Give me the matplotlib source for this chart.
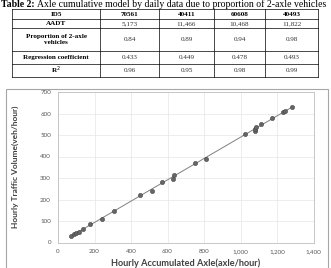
import numpy as np
import matplotlib.pyplot as plt
from matplotlib.patches import Rectangle
from matplotlib.ticker import FuncFormatter

# table data
title_bold = 'Table 2:'
title_rest = 'Axle cumulative model by daily data due to proportion of 2-axle vehicles'
col_heads = ['ID5', '70561', '40411', '60608', '40493']
row_names = ['AADT', 'Proportion of 2-axle\nvehicles', 'Regression coefficient', 'R$^2$']
cells = [['5,173', '11,466', '10,468', '11,822'],
         ['0.84', '0.89', '0.94', '0.98'],
         ['0.433', '0.449', '0.478', '0.493'],
         ['0.96', '0.95', '0.98', '0.99']]

# scatter data (axle/hour vs veh/hour)
axle = [69, 89, 100, 116, 138, 178, 242, 305, 447, 513, 569, 629, 636, 751, 809,
        1023, 1078, 1080, 1083, 1115, 1174, 1232, 1242, 1281]
veh = [31, 40, 45, 49, 62, 88, 107, 147, 220, 239, 282, 296, 313, 369, 389,
       504, 519, 530, 536, 549, 578, 606, 611, 628]

W, H = 331, 268
fig = plt.figure(figsize=(W / 100, H / 100), dpi=100)

def fx(px):
    return px / W

def fy(py):
    return 1 - py / H

# ---- table ----
t1 = fig.text(fx(1), fy(4.5), title_bold, fontsize=7, fontweight='bold',
              family='Liberation Serif', va='center', ha='left')
r = fig.canvas.get_renderer()
bb = t1.get_window_extent(renderer=r)
fig.text(bb.x1 / W + fx(2), fy(4.5), title_rest, fontsize=7,
         family='Liberation Serif', va='center', ha='left')

xcols = [12, 100, 159, 214, 265, 318]
yrows = [9, 19, 28, 51, 64, 77]
for x in xcols:
    fig.add_artist(plt.Line2D([fx(x), fx(x)], [fy(yrows[0]), fy(yrows[-1])],
                              color='black', lw=0.5))
for y in yrows:
    fig.add_artist(plt.Line2D([fx(xcols[0]), fx(xcols[-1])], [fy(y), fy(y)],
                              color='black', lw=0.5))

rows = [col_heads] + [[name] + vals for name, vals in zip(row_names, cells)]
for i, row in enumerate(rows):
    yc = (yrows[i] + yrows[i + 1]) / 2
    for c, txt in enumerate(row):
        xc = (xcols[c] + xcols[c + 1]) / 2
        bold = (i == 0) or (c == 0)
        fig.text(fx(xc), fy(yc), txt, fontsize=5.1, family='Liberation Serif',
                 fontweight='bold' if bold else 'normal', ha='center', va='center',
                 linespacing=1.4, color='black' if bold else '#333333')

# ---- chart frame ----
fig.add_artist(Rectangle((fx(5.5), fy(275)), fx(322), (275 - 89) / H,
                         fill=False, edgecolor='#a6a6a6', lw=0.8))

ax = fig.add_axes([fx(58), fy(242.5), fx(313.5 - 58), (242.5 - 92) / H])
ax.set_xlim(0, 1400)
ax.set_ylim(0, 700)
ax.set_xticks(np.arange(0, 1401, 200))
ax.set_yticks(np.arange(0, 701, 100))
ax.xaxis.set_major_formatter(FuncFormatter(lambda v, p: f'{int(v):,}'))
ax.grid(True, color='#e6e6e6', lw=0.5)
ax.set_axisbelow(True)
for s in ax.spines.values():
    s.set_color('#bfbfbf')
    s.set_linewidth(0.6)
ax.tick_params(length=0, labelsize=4.5, labelcolor='#595959', pad=5)
for lab in ax.get_xticklabels() + ax.get_yticklabels():
    lab.set_family('Lato')

a = np.polyfit(axle, veh, 1)
xl = np.array([min(axle), max(axle)])
ax.plot(xl, np.polyval(a, xl), color='#808080', lw=0.7, zorder=2)
ax.scatter(axle, veh, s=9, color='#666666', edgecolors='#444444', linewidths=0.4, zorder=3)

ax.set_xlabel('Hourly Accumulated Axle(axle/hour)', fontsize=6.6, fontweight='bold',
              family='Lato', color='#404040', labelpad=3)
ax.set_ylabel('Hourly Traffic Volume(veh/hour)', fontsize=6.0, fontweight='bold',
              family='Lato', color='#404040', labelpad=15)

fig.savefig('out.png', dpi=100)
